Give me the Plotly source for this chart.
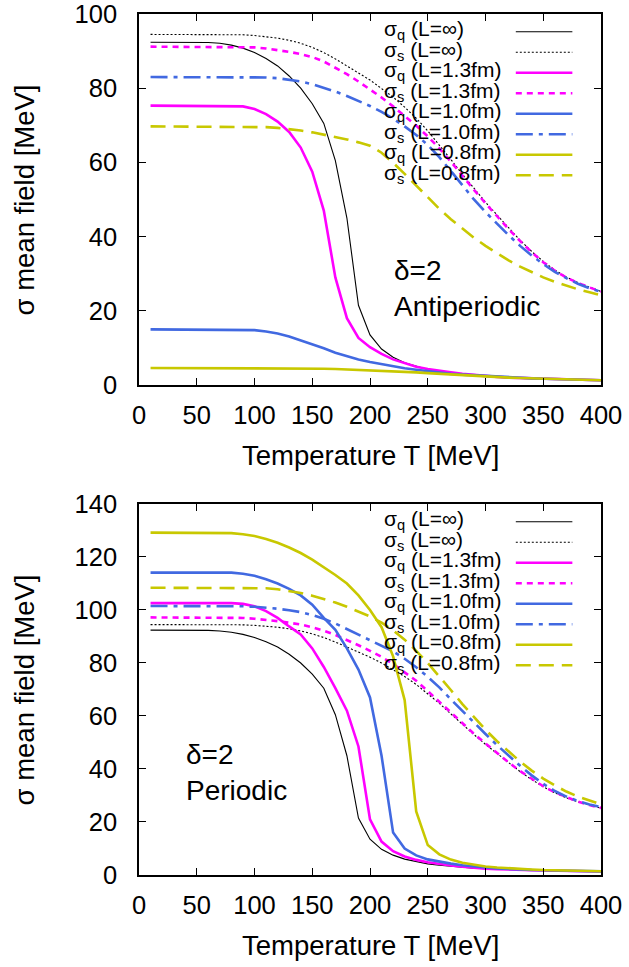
import plotly.graph_objects as go

T = [10, 20, 30, 40, 50, 60, 70, 80, 90, 100,
     110, 120, 130, 140, 150, 160, 170, 180, 190, 200,
     210, 220, 230, 240, 250, 260, 270, 280, 290, 300,
     310, 320, 330, 340, 350, 360, 370, 380, 390, 400]

# infinite volume (same in both panels)
sq_inf = [92.4, 92.4, 92.4, 92.4, 92.4, 92.3, 92.1, 91.6, 90.8, 89.6,
          88.0, 86.0, 83.3, 80.0, 75.8, 70.5, 60.5, 45.0, 21.5, 13.5,
          9.7, 7.5, 6.0, 5.0, 4.2, 3.7, 3.3, 2.9, 2.6, 2.4,
          2.2, 2.0, 1.9, 1.8, 1.7, 1.6, 1.5, 1.4, 1.35, 1.3]
ss_inf = [94.5, 94.5, 94.5, 94.5, 94.5, 94.5, 94.5, 94.5, 94.4, 94.2,
          93.9, 93.5, 92.9, 92.1, 91.0, 89.6, 87.9, 86.1, 84.1, 82.2,
          80.0, 77.6, 74.9, 71.9, 68.5, 64.8, 60.8, 56.8, 53.0, 49.3,
          45.8, 42.3, 39.0, 36.0, 33.3, 31.0, 29.1, 27.6, 26.3, 25.2]

# antiperiodic
ap_sq13 = [75.3, 75.3, 75.3, 75.3, 75.3, 75.3, 75.3, 75.3, 75.1, 74.4,
           73.0, 71.0, 68.2, 64.0, 57.5, 47.0, 29.0, 18.0, 12.7, 10.2,
           8.4, 6.9, 5.8, 4.9, 4.3, 3.8, 3.4, 3.0, 2.7, 2.4,
           2.2, 2.0, 1.9, 1.8, 1.7, 1.6, 1.5, 1.4, 1.35, 1.3]
ap_ss13 = [91.2, 91.2, 91.2, 91.2, 91.2, 91.2, 91.2, 91.2, 91.2, 91.0,
           90.7, 90.3, 89.8, 89.2, 88.4, 87.2, 85.6, 83.8, 81.8, 79.7,
           77.5, 75.1, 72.6, 69.9, 67.0, 63.8, 60.2, 56.3, 52.6, 49.0,
           45.5, 42.0, 38.8, 35.8, 33.1, 30.8, 29.0, 27.5, 26.3, 25.2]
ap_sq10 = [15.0, 15.0, 15.0, 15.0, 15.0, 15.0, 15.0, 15.0, 15.0, 14.8,
           14.4, 13.9, 13.1, 12.1, 11.0, 9.9, 8.7, 7.7, 6.9, 6.2,
           5.6, 5.0, 4.5, 4.1, 3.7, 3.3, 3.0, 2.8, 2.6, 2.4,
           2.2, 2.0, 1.9, 1.8, 1.7, 1.6, 1.5, 1.4, 1.35, 1.3]
ap_ss10 = [83.0, 83.0, 83.0, 83.0, 83.0, 83.0, 83.0, 83.0, 83.0, 83.0,
           82.9, 82.7, 82.3, 81.8, 81.1, 80.2, 79.1, 77.9, 76.6, 75.2,
           73.6, 71.8, 69.7, 67.4, 64.7, 61.4, 57.7, 53.8, 50.0, 46.6,
           43.4, 40.4, 37.5, 34.9, 32.6, 30.5, 28.8, 27.3, 26.1, 25.1]
ap_sq08 = [4.6, 4.6, 4.6, 4.6, 4.6, 4.6, 4.6, 4.6, 4.6, 4.6,
           4.6, 4.6, 4.6, 4.55, 4.5, 4.4, 4.3, 4.2, 4.1, 4.0,
           3.9, 3.75, 3.6, 3.4, 3.2, 3.0, 2.8, 2.6, 2.45, 2.3,
           2.15, 2.0, 1.9, 1.8, 1.7, 1.6, 1.5, 1.4, 1.35, 1.3]
ap_ss08 = [69.7, 69.7, 69.7, 69.7, 69.7, 69.7, 69.7, 69.7, 69.7, 69.7,
           69.5, 69.3, 69.0, 68.6, 68.1, 67.5, 66.9, 66.2, 65.4, 64.5,
           62.6, 59.9, 56.9, 53.7, 50.5, 47.5, 44.7, 42.1, 39.7, 37.5,
           35.5, 33.6, 31.9, 30.4, 29.0, 27.8, 26.7, 25.8, 25.0, 24.2]

# periodic
p_sq13 = [102.6, 102.6, 102.6, 102.6, 102.6, 102.6, 102.6, 102.6, 102.3, 101.4,
          99.6, 97.0, 93.8, 90.8, 85.5, 78.5, 70.5, 62.0, 48.5, 21.0,
          12.6, 9.0, 7.0, 5.7, 4.8, 4.1, 3.6, 3.1, 2.7, 2.4,
          2.2, 2.0, 1.9, 1.8, 1.7, 1.6, 1.5, 1.4, 1.35, 1.3]
p_ss13 = [97.2, 97.2, 97.2, 97.2, 97.2, 97.2, 97.2, 97.2, 97.0, 96.7,
          96.3, 95.8, 95.2, 94.5, 93.5, 92.2, 90.6, 88.8, 86.7, 84.6,
          82.3, 79.6, 76.6, 73.3, 69.4, 65.4, 61.3, 57.2, 53.3, 49.6,
          46.0, 42.5, 39.2, 36.2, 33.5, 31.2, 29.3, 27.7, 26.4, 25.3]
p_sq10 = [114.1, 114.1, 114.1, 114.1, 114.1, 114.1, 114.1, 114.1, 113.7, 112.9,
          111.6, 110.0, 108.0, 105.5, 102.0, 97.0, 92.5, 85.5, 77.5, 67.0,
          45.0, 16.0, 10.0, 7.4, 5.9, 5.0, 4.3, 3.7, 3.2, 2.8,
          2.5, 2.25, 2.05, 1.9, 1.8, 1.7, 1.6, 1.5, 1.4, 1.35]
p_ss10 = [101.5, 101.5, 101.5, 101.5, 101.5, 101.5, 101.5, 101.5, 101.4, 101.2,
          100.9, 100.5, 99.9, 99.2, 98.1, 96.7, 94.9, 92.8, 90.8, 88.9,
          86.8, 84.4, 81.6, 78.4, 74.8, 70.8, 66.3, 61.8, 57.4, 53.2,
          49.0, 45.0, 41.2, 37.6, 34.4, 31.7, 29.6, 27.9, 26.6, 25.6]
p_sq08 = [129.2, 129.2, 129.2, 129.2, 129.2, 129.2, 129.2, 129.0, 128.6, 127.9,
          126.8, 125.4, 123.6, 121.5, 119.0, 116.2, 113.2, 110.0, 105.5, 100.0,
          93.5, 82.5, 66.0, 24.0, 11.3, 7.8, 5.8, 4.6, 3.8, 3.2,
          2.8, 2.5, 2.3, 2.1, 1.9, 1.8, 1.65, 1.55, 1.45, 1.4]
p_ss08 = [108.4, 108.4, 108.4, 108.4, 108.4, 108.4, 108.4, 108.4, 108.4, 108.4,
          108.2, 107.8, 107.2, 106.4, 105.4, 104.2, 102.8, 101.2, 99.4, 97.6,
          95.2, 92.3, 88.8, 84.6, 80.0, 75.0, 69.8, 64.5, 59.5, 54.8,
          50.5, 46.5, 42.8, 39.4, 36.4, 33.8, 31.5, 29.6, 28.0, 26.7]

x_ticks = [0, 50, 100, 150, 200, 250, 300, 350, 400]
y_ticks_top = [0, 20, 40, 60, 80, 100]
y_ticks_bot = [0, 20, 40, 60, 80, 100, 120, 140]

labels = ["σ<sub>q</sub> (L=∞)", "σ<sub>s</sub> (L=∞)",
          "σ<sub>q</sub> (L=1.3fm)", "σ<sub>s</sub> (L=1.3fm)",
          "σ<sub>q</sub> (L=1.0fm)", "σ<sub>s</sub> (L=1.0fm)",
          "σ<sub>q</sub> (L=0.8fm)", "σ<sub>s</sub> (L=0.8fm)"]

MAG = "#ff00ff"
BLU = "#4169e1"
YEL = "#c8c800"
styles = [
    dict(color="black", width=1.1, dash="solid"),
    dict(color="black", width=1.1, dash="2px,2px"),
    dict(color=MAG, width=2.6, dash="solid"),
    dict(color=MAG, width=2.6, dash="6px,5px"),
    dict(color=BLU, width=2.6, dash="solid"),
    dict(color=BLU, width=2.6, dash="17px,6px,4px,6px"),
    dict(color=YEL, width=2.6, dash="solid"),
    dict(color=YEL, width=2.6, dash="15px,8px"),
]

top_series = [sq_inf, ss_inf, ap_sq13, ap_ss13, ap_sq10, ap_ss10, ap_sq08, ap_ss08]
bot_series = [sq_inf, ss_inf, p_sq13, p_ss13, p_sq10, p_ss10, p_sq08, p_ss08]

FONT = "Liberation Sans, Arial, Helvetica, sans-serif"
fig = go.Figure()

for ys, st, lab in zip(top_series, styles, labels):
    fig.add_trace(go.Scatter(x=T, y=ys, mode="lines", line=st, name=lab,
                             xaxis="x", yaxis="y", showlegend=False))
for ys, st, lab in zip(bot_series, styles, labels):
    fig.add_trace(go.Scatter(x=T, y=ys, mode="lines", line=st, name=lab,
                             xaxis="x2", yaxis="y2", showlegend=False))

annotations = []
shapes = []
for ax_x, ax_y in [("x", "y"), ("x2", "y2")]:
    # manual legend (text left, sample right)
    for i, (lab, st) in enumerate(zip(labels, styles)):
        yd = 0.952 - i * 0.05526
        annotations.append(dict(
            text=lab, xref=f"{ax_x} domain", yref=f"{ax_y} domain",
            x=0.526, y=yd + 0.004, xanchor="left", yanchor="middle",
            showarrow=False, font=dict(family=FONT, size=21, color="black")))
        shapes.append(dict(
            type="line", xref=f"{ax_x} domain", yref=f"{ax_y} domain",
            x0=0.8156, x1=0.938, y0=yd, y1=yd,
            line=dict(color=st["color"], width=st["width"], dash=st["dash"])))
    # axis titles
    annotations.append(dict(text="Temperature T [MeV]", xref=f"{ax_x} domain", yref=f"{ax_y} domain",
                            x=0.5, y=-0.1887, xanchor="center", yanchor="middle", showarrow=False,
                            font=dict(family=FONT, size=27.5, color="black")))
    annotations.append(dict(text="σ mean field [MeV]", xref="paper", yref=f"{ax_y} domain",
                            x=-0.2468, y=0.5, xanchor="center", yanchor="middle", textangle=-90,
                            showarrow=False, font=dict(family=FONT, size=27.5, color="black")))

annotations.append(dict(text="δ=2<br>Antiperiodic", xref="x domain", yref="y domain",
                        x=0.548, y=0.26, xanchor="left", yanchor="middle", align="left",
                        showarrow=False, font=dict(family=FONT, size=28, color="black")))
annotations.append(dict(text="δ=2<br>Periodic", xref="x2 domain", yref="y2 domain",
                        x=0.097, y=0.276, xanchor="left", yanchor="middle", align="left",
                        showarrow=False, font=dict(family=FONT, size=28, color="black")))

axis_common = dict(showline=True, linecolor="black", linewidth=1.5, mirror="ticks",
                   ticks="inside", ticklen=7, tickwidth=1.2, tickcolor="black",
                   showgrid=False, zeroline=False, automargin=False,
                   ticklabeloverflow="allow",
                   tickfont=dict(family=FONT, size=25.5, color="black"))

fig.update_layout(
    template="none",
    width=629, height=967,
    margin=dict(l=139, r=28, t=14, b=92, autoexpand=False),
    paper_bgcolor="white", plot_bgcolor="white",
    font=dict(family=FONT, size=25, color="black"),
    xaxis=dict(domain=[0, 1], anchor="y", range=[0, 400], tickvals=x_ticks,
               ticklabelstandoff=7, **axis_common),
    yaxis=dict(domain=[0.5691, 1], anchor="x", range=[0, 100], tickvals=y_ticks_top,
               ticklabelstandoff=15, **axis_common),
    xaxis2=dict(domain=[0, 1], anchor="y2", range=[0, 400], tickvals=x_ticks,
                ticklabelstandoff=7, **axis_common),
    yaxis2=dict(domain=[0, 0.4309], anchor="x2", range=[0, 140], tickvals=y_ticks_bot,
                ticklabelstandoff=15, **axis_common),
    annotations=annotations,
    shapes=shapes,
    showlegend=False,
)

fig.write_html("out.html", config={"displayModeBar": False},
               post_script="document.body.style.margin='0px';")
